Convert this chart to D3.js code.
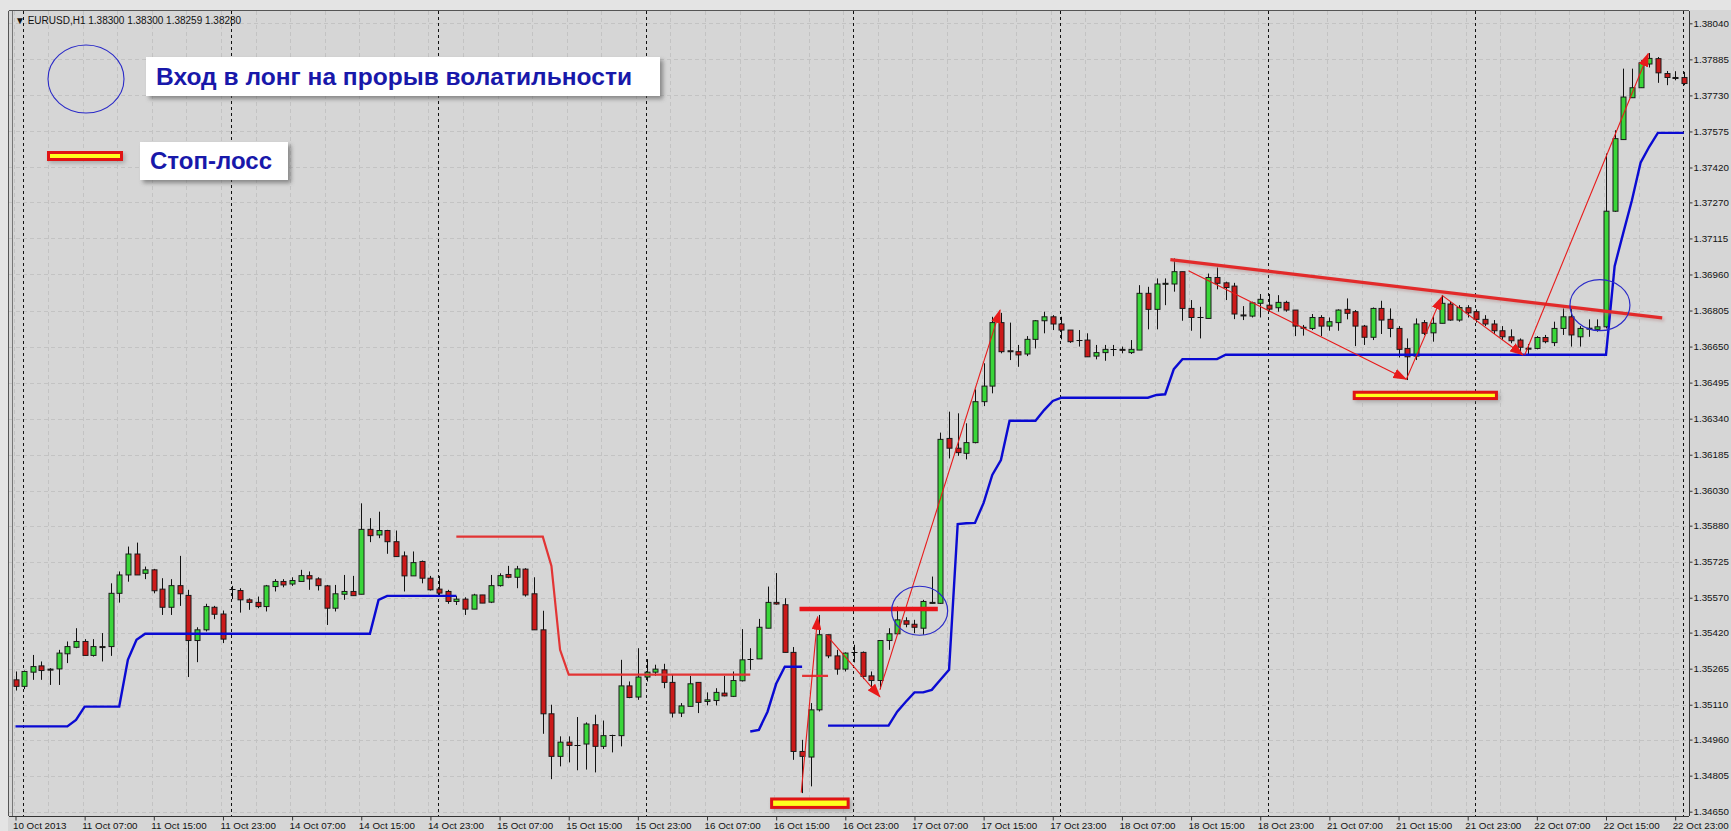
<!DOCTYPE html>
<html><head><meta charset="utf-8">
<script src="https://cdn.jsdelivr.net/npm/d3@7"></script>
<style>body{margin:0;background:#d6d6d6;overflow:hidden}svg{display:block}</style>
</head><body><svg id="c" width="1731" height="831"></svg>
<script>
const openP=[1.35217,1.35189,1.35250,1.35277,1.35263,1.35264,1.35329,1.35357,1.35382,1.35322,
1.35360,1.35360,1.35589,1.35668,1.35758,1.35675,1.35690,1.35607,1.35529,1.35622,
1.35580,1.35386,1.35432,1.35529,1.35500,1.35608,1.35601,1.35561,1.35550,1.35532,
1.35618,1.35640,1.35629,1.35640,1.35665,1.35651,1.35621,1.35525,1.35585,1.35597,
1.35585,1.35864,1.35840,1.35859,1.35811,1.35750,1.35664,1.35726,1.35654,1.35607,
1.35597,1.35554,1.35564,1.35521,1.35582,1.35551,1.35622,1.35670,1.35658,1.35693,
1.35587,1.35432,1.35071,1.34888,1.34949,1.34938,1.34941,1.35024,1.34931,1.34978,
1.34977,1.35191,1.35143,1.35229,1.35250,1.35260,1.35206,1.35074,1.35103,1.35206,
1.35124,1.35128,1.35160,1.35146,1.35213,1.35307,1.35307,1.35439,1.35550,1.35540,
1.35335,1.34909,1.34885,1.35088,1.35411,1.35320,1.35263,1.35335,1.35335,1.35234,
1.35214,1.35386,1.35415,1.35471,1.35456,1.35439,1.35549,1.35546,1.36255,1.36213,
1.36191,1.36237,1.36413,1.36480,1.36753,1.36632,1.36628,1.36618,1.36681,1.36761,
1.36778,1.36747,1.36721,1.36678,1.36678,1.36609,1.36624,1.36638,1.36638,1.36624,
1.36635,1.36879,1.36810,1.36921,1.36919,1.36972,1.36814,1.36775,1.36771,1.36947,
1.36924,1.36910,1.36786,1.36781,1.36836,1.36828,1.36817,1.36840,1.36807,1.36733,
1.36728,1.36775,1.36738,1.36753,1.36810,1.36800,1.36738,1.36690,1.36814,1.36767,
1.36728,1.36642,1.36609,1.36753,1.36709,1.36750,1.36833,1.36764,1.36817,1.36800,
1.36767,1.36747,1.36718,1.36692,1.36678,1.36643,1.36642,1.36689,1.36667,1.36728,
1.36778,1.36692,1.36728,1.36724,1.36735,1.37232,1.37540,1.37720,1.37763,1.37865,
1.37888,1.37824,1.37807,1.37807];
const highP=[1.35253,1.35257,1.35324,1.35296,1.35267,1.35346,1.35382,1.35439,1.35392,1.35392,
1.35418,1.35632,1.35683,1.35790,1.35807,1.35704,1.35694,1.35654,1.35650,1.35750,
1.35604,1.35443,1.35544,1.35535,1.35515,1.35621,1.35611,1.35567,1.35575,1.35625,
1.35650,1.35650,1.35658,1.35690,1.35683,1.35658,1.35625,1.35625,1.35668,1.35664,
1.35976,1.35912,1.35940,1.35862,1.35859,1.35769,1.35769,1.35730,1.35664,1.35664,
1.35604,1.35578,1.35572,1.35587,1.35582,1.35668,1.35675,1.35707,1.35707,1.35697,
1.35658,1.35514,1.35110,1.34974,1.34974,1.35057,1.35034,1.35067,1.35042,1.34981,
1.35303,1.35210,1.35353,1.35306,1.35282,1.35286,1.35239,1.35117,1.35234,1.35206,
1.35163,1.35181,1.35234,1.35253,1.35435,1.35353,1.35479,1.35618,1.35676,1.35568,
1.35358,1.34959,1.35117,1.35496,1.35411,1.35346,1.35335,1.35368,1.35339,1.35253,
1.35386,1.35439,1.35532,1.35486,1.35475,1.35561,1.35661,1.36280,1.36370,1.36363,
1.36320,1.36466,1.36578,1.36778,1.36795,1.36753,1.36657,1.36695,1.36764,1.36800,
1.36785,1.36778,1.36721,1.36721,1.36707,1.36657,1.36657,1.36657,1.36650,1.36678,
1.36914,1.36907,1.36943,1.36943,1.37029,1.36972,1.36850,1.36821,1.36964,1.36990,
1.36929,1.36924,1.36824,1.36843,1.36876,1.36876,1.36871,1.36847,1.36807,1.36743,
1.36790,1.36785,1.36775,1.36810,1.36857,1.36807,1.36743,1.36818,1.36847,1.36814,
1.36738,1.36685,1.36771,1.36764,1.36781,1.36871,1.36843,1.36828,1.36828,1.36810,
1.36785,1.36764,1.36738,1.36724,1.36685,1.36661,1.36695,1.36700,1.36757,1.36814,
1.36814,1.36738,1.36767,1.36767,1.37480,1.37580,1.37845,1.37845,1.37881,1.37912,
1.37895,1.37835,1.37834,1.37831];
const lowP=[1.35171,1.35177,1.35217,1.35217,1.35195,1.35195,1.35289,1.35353,1.35322,1.35317,
1.35296,1.35320,1.35549,1.35639,1.35668,1.35650,1.35589,1.35496,1.35496,1.35535,
1.35229,1.35293,1.35425,1.35478,1.35375,1.35564,1.35506,1.35518,1.35525,1.35511,
1.35597,1.35615,1.35621,1.35640,1.35604,1.35601,1.35453,1.35511,1.35561,1.35578,
1.35585,1.35809,1.35826,1.35759,1.35747,1.35597,1.35664,1.35632,1.35601,1.35578,
1.35544,1.35539,1.35496,1.35521,1.35547,1.35547,1.35618,1.35654,1.35611,1.35575,
1.35432,1.34985,1.34790,1.34845,1.34862,1.34828,1.34831,1.34819,1.34920,1.34905,
1.34931,1.35138,1.35131,1.35210,1.35234,1.35181,1.35055,1.35057,1.35103,1.35074,
1.35107,1.35107,1.35146,1.35143,1.35210,1.35260,1.35307,1.35439,1.35540,1.35335,
1.34873,1.34730,1.34759,1.35081,1.35310,1.35239,1.35253,1.35292,1.35220,1.35177,
1.35177,1.35346,1.35411,1.35443,1.35418,1.35411,1.35544,1.35544,1.36169,1.36180,
1.36165,1.36234,1.36394,1.36449,1.36621,1.36592,1.36563,1.36609,1.36642,1.36707,
1.36721,1.36681,1.36666,1.36650,1.36606,1.36595,1.36589,1.36609,1.36621,1.36618,
1.36635,1.36724,1.36724,1.36828,1.36886,1.36761,1.36718,1.36685,1.36771,1.36896,
1.36850,1.36768,1.36764,1.36775,1.36775,1.36800,1.36800,1.36800,1.36695,1.36697,
1.36721,1.36695,1.36718,1.36718,1.36767,1.36652,1.36657,1.36678,1.36704,1.36690,
1.36603,1.36506,1.36592,1.36699,1.36671,1.36750,1.36761,1.36757,1.36775,1.36753,
1.36738,1.36704,1.36678,1.36664,1.36628,1.36614,1.36638,1.36664,1.36652,1.36700,
1.36650,1.36650,1.36692,1.36714,1.36728,1.37229,1.37540,1.37720,1.37763,1.37850,
1.37784,1.37774,1.37795,1.37774];
const closeP=[1.35189,1.35253,1.35274,1.35257,1.35261,1.35332,1.35360,1.35382,1.35322,1.35360,
1.35359,1.35589,1.35668,1.35758,1.35668,1.35690,1.35600,1.35529,1.35622,1.35587,
1.35386,1.35432,1.35532,1.35499,1.35392,1.35608,1.35561,1.35550,1.35532,1.35621,
1.35640,1.35625,1.35644,1.35665,1.35651,1.35622,1.35525,1.35587,1.35597,1.35579,
1.35864,1.35837,1.35859,1.35811,1.35747,1.35664,1.35721,1.35654,1.35604,1.35590,
1.35554,1.35564,1.35521,1.35582,1.35547,1.35622,1.35665,1.35658,1.35694,1.35582,
1.35432,1.35071,1.34888,1.34949,1.34935,1.34938,1.35027,1.34931,1.34977,1.34978,
1.35191,1.35141,1.35229,1.35250,1.35263,1.35206,1.35074,1.35105,1.35200,1.35120,
1.35131,1.35163,1.35148,1.35214,1.35303,1.35307,1.35443,1.35550,1.35543,1.35335,
1.34909,1.34888,1.35088,1.35411,1.35320,1.35263,1.35332,1.35335,1.35232,1.35214,
1.35386,1.35415,1.35475,1.35456,1.35443,1.35554,1.35550,1.36251,1.36213,1.36194,
1.36237,1.36413,1.36480,1.36753,1.36628,1.36630,1.36614,1.36681,1.36761,1.36778,
1.36747,1.36721,1.36671,1.36678,1.36606,1.36624,1.36638,1.36638,1.36636,1.36638,
1.36879,1.36810,1.36919,1.36922,1.36972,1.36814,1.36775,1.36775,1.36947,1.36922,
1.36904,1.36790,1.36785,1.36838,1.36853,1.36811,1.36840,1.36807,1.36738,1.36732,
1.36775,1.36738,1.36757,1.36807,1.36793,1.36738,1.36690,1.36814,1.36764,1.36728,
1.36638,1.36606,1.36747,1.36707,1.36750,1.36836,1.36764,1.36818,1.36795,1.36767,
1.36747,1.36718,1.36692,1.36675,1.36647,1.36642,1.36689,1.36671,1.36728,1.36778,
1.36700,1.36728,1.36729,1.36735,1.37232,1.37544,1.37723,1.37763,1.37870,1.37889,
1.37827,1.37807,1.37806,1.37781];
const blueStop=[1.35017,1.35017,1.35017,1.35017,1.35017,1.35017,1.35017,1.35045,1.35102,1.35102,
1.35102,1.35102,1.35102,1.35303,1.35389,1.35415,1.35415,1.35415,1.35415,1.35415,
1.35415,1.35415,1.35415,1.35415,1.35415,1.35415,1.35415,1.35415,1.35415,1.35415,
1.35415,1.35415,1.35415,1.35415,1.35415,1.35415,1.35415,1.35415,1.35415,1.35415,
1.35415,1.35415,1.35561,1.35578,1.35578,1.35578,1.35578,1.35578,1.35578,1.35578,
1.35578,1.35578,null,null,null,null,null,null,null,null,
null,null,null,null,null,null,null,null,null,null,
null,null,null,null,null,null,null,null,null,null,
null,null,null,null,null,1.34995,1.35002,1.35080,1.35200,1.35273,
1.35273,1.35273,null,null,1.35020,1.35020,1.35020,1.35020,1.35020,1.35020,
1.35020,1.35020,1.35080,1.35123,1.35163,1.35163,1.35174,1.35217,1.35260,1.35887,
1.35890,1.35892,1.35978,1.36098,1.36162,1.36331,1.36331,1.36331,1.36331,1.36377,
1.36416,1.36430,1.36430,1.36430,1.36430,1.36430,1.36430,1.36430,1.36430,1.36430,
1.36430,1.36430,1.36442,1.36445,1.36553,1.36596,1.36596,1.36596,1.36596,1.36596,
1.36615,1.36615,1.36615,1.36615,1.36615,1.36615,1.36615,1.36615,1.36615,1.36615,
1.36615,1.36615,1.36615,1.36615,1.36615,1.36615,1.36615,1.36615,1.36615,1.36615,
1.36615,1.36615,1.36615,1.36615,1.36615,1.36615,1.36615,1.36615,1.36615,1.36615,
1.36615,1.36615,1.36615,1.36615,1.36615,1.36615,1.36615,1.36615,1.36615,1.36615,
1.36615,1.36615,1.36615,1.36615,1.36615,1.36996,1.37139,1.37279,1.37441,1.37509,
1.37569,1.37569,1.37569,1.37569];
const redStop=[null,null,null,null,null,null,null,null,null,null,
null,null,null,null,null,null,null,null,null,null,
null,null,null,null,null,null,null,null,null,null,
null,null,null,null,null,null,null,null,null,null,
null,null,null,null,null,null,null,null,null,null,
null,1.35833,1.35833,1.35833,1.35833,1.35833,1.35833,1.35833,1.35833,1.35833,
1.35833,1.35833,1.35707,1.35346,1.35239,1.35239,1.35239,1.35239,1.35239,1.35239,
1.35239,1.35239,1.35239,1.35239,1.35239,1.35239,1.35239,1.35239,1.35239,1.35239,
1.35239,1.35239,1.35239,1.35239,1.35239,1.35239,null,null,null,null,
null,1.35234,1.35234,1.35234,1.35234,null,null,null,null,null,
null,null,null,null,null,null,null,null,null,null,
null,null,null,null,null,null,null,null,null,null,
null,null,null,null,null,null,null,null,null,null,
null,null,null,null,null,null,null,null,null,null,
null,null,null,null,null,null,null,null,null,null,
null,null,null,null,null,null,null,null,null,null,
null,null,null,null,null,null,null,null,null,null,
null,null,null,null,null,null,null,null,null,null,
null,null,null,null,null,null,null,null,null,null,
null,null,null,null];
const timeLabels=["10 Oct 2013","11 Oct 07:00","11 Oct 15:00","11 Oct 23:00","14 Oct 07:00","14 Oct 15:00","14 Oct 23:00","15 Oct 07:00","15 Oct 15:00","15 Oct 23:00","16 Oct 07:00","16 Oct 15:00","16 Oct 23:00","17 Oct 07:00","17 Oct 15:00","17 Oct 23:00","18 Oct 07:00","18 Oct 15:00","18 Oct 23:00","21 Oct 07:00","21 Oct 15:00","21 Oct 23:00","22 Oct 07:00","22 Oct 15:00","22 Oct 23:00"];
const labelBars=[0,8,16,24,32,40,48,56,64,72,80,88,96,104,112,120,128,136,144,152,160,168,176,184,192];
const daySeparatorBars=[1,25,49,73,97,121,145,169,193];
const priceTicks=[1.38040,1.37885,1.37730,1.37575,1.37420,1.37270,1.37115,1.36960,1.36805,1.36650,1.36495,1.36340,1.36185,1.36030,1.35880,1.35725,1.35570,1.35420,1.35265,1.35110,1.34960,1.34805,1.34650];
// annotations (bar index, price)
const arrowFromBar=[90.9,93.8,100.0,135.7,160.9,165.0,174.6];
const arrowFromPrice=[1.34732,1.35410,1.35174,1.36976,1.36509,1.36871,1.36614];
const arrowToBar=[92.8,100.0,113.9,160.9,165.0,174.4,188.9];
const arrowToPrice=[1.35488,1.35144,1.36807,1.36509,1.36864,1.36614,1.37910];
const levelBars=[90.7,106.7]; const levelPrice=1.35522;
const trendBars=[133.6,190.5]; const trendPrices=[1.37024,1.36773];
const entryBars=[104.6,183.3]; const entryPrices=[1.35514,1.36828];
const stopBar0=[87.3,154.7], stopBar1=[96.5,171.5], stopTop=[1.34711,1.36460], stopBottom=[1.34662,1.36420];
const titleText="\u25BC EURUSD,H1  1.38300 1.38300 1.38259 1.38280";
const legendEntry="Вход в лонг на прорыв волатильности";
const legendStop="Стоп-лосс";

const svg=d3.select("#c");
const W=1731,H=831, L=9, T=11, R=1689, B=816;
const x=d3.scaleLinear().domain([0,193]).range([15.5,15.5+193*8.644]);
const y=d3.scaleLinear().domain([1.3465,1.3804]).range([811.7,23.3]);
const defs=svg.append("defs");
defs.append("marker").attr("id","ah").attr("markerUnits","userSpaceOnUse").attr("markerWidth",14).attr("markerHeight",10)
 .attr("refX",13).attr("refY",5).attr("orient","auto").append("path").attr("d","M0,0L14,5L0,10Z").attr("fill","#e81a1a");
const f=defs.append("filter").attr("id","sh").attr("x","-10%").attr("y","-20%").attr("width","130%").attr("height","160%");
f.append("feGaussianBlur").attr("stdDeviation",2);
const f2=defs.append("filter").attr("id","glow").attr("x","-10%").attr("y","-50%").attr("width","120%").attr("height","200%");
f2.append("feGaussianBlur").attr("stdDeviation",1.5);

svg.append("rect").attr("width",W).attr("height",H).attr("fill","#d6d6d6");
svg.append("rect").attr("width",W).attr("height",T-1).attr("fill","#e4e4e4");
svg.append("rect").attr("width",L-1).attr("height",H).attr("fill","#e4e4e4");
const plot=svg.append("g");
// grid
const gridBars=d3.range(0,194,4);
plot.selectAll(".vg").data(gridBars).enter().append("line")
 .attr("x1",d=>Math.round(x(d))-1.5).attr("x2",d=>Math.round(x(d))-1.5).attr("y1",T).attr("y2",B)
 .attr("stroke","#c3c3c3").attr("stroke-dasharray","4,3");
plot.selectAll(".hg").data(priceTicks).enter().append("line")
 .attr("x1",L).attr("x2",R).attr("y1",d=>Math.round(y(d))+0.5).attr("y2",d=>Math.round(y(d))+0.5)
 .attr("stroke","#c3c3c3").attr("stroke-dasharray","4,3");
plot.selectAll(".ds").data(daySeparatorBars).enter().append("line")
 .attr("x1",d=>Math.round(x(d))-0.5).attr("x2",d=>Math.round(x(d))-0.5).attr("y1",T).attr("y2",B)
 .attr("stroke","#111").attr("stroke-dasharray","3,3");
// candles
const bars=d3.range(openP.length);
const cg=plot.append("g");
bars.forEach(i=>{
 const cx=Math.round(x(i))+0.5, o=openP[i], c=closeP[i];
 cg.append("line").attr("x1",cx).attr("x2",cx).attr("y1",y(highP[i])).attr("y2",y(lowP[i])).attr("stroke","#111").attr("stroke-width",1);
 const yt=y(Math.max(o,c)), yb=y(Math.min(o,c));
 if(o===c){cg.append("line").attr("x1",cx-3).attr("x2",cx+3).attr("y1",Math.round(yt)+0.5).attr("y2",Math.round(yt)+0.5).attr("stroke","#111");}
 else cg.append("rect").attr("x",cx-2.5).attr("width",5).attr("y",yt).attr("height",Math.max(1,yb-yt))
   .attr("fill",c>o?"#3ad63a":"#cc1a1a").attr("stroke","#1a1a1a").attr("stroke-width",1);
});
// indicator lines
const ln=d3.line().defined(d=>d.v!=null).x(d=>x(d.i)).y(d=>y(d.v));
plot.append("path").attr("d",ln(redStop.map((v,i)=>({i,v})))).attr("fill","none").attr("stroke","#e23434").attr("stroke-width",2.2);
plot.append("path").attr("d",ln(blueStop.map((v,i)=>({i,v})))).attr("fill","none").attr("stroke","#0a0ad2").attr("stroke-width",2.4);
// annotations
const an=plot.append("g");
an.append("line").attr("x1",x(levelBars[0])).attr("x2",x(levelBars[1])).attr("y1",y(levelPrice)).attr("y2",y(levelPrice)).attr("stroke","#e8141a").attr("stroke-width",4.5);
an.append("line").attr("x1",x(trendBars[0])+2).attr("x2",x(trendBars[1])+2).attr("y1",y(trendPrices[0])+2).attr("y2",y(trendPrices[1])+2).attr("stroke","#b08080").attr("stroke-width",3).attr("opacity",0.5).attr("filter","url(#glow)");
an.append("line").attr("x1",x(trendBars[0])).attr("x2",x(trendBars[1])).attr("y1",y(trendPrices[0])).attr("y2",y(trendPrices[1])).attr("stroke","#e22a2a").attr("stroke-width",3.2);
arrowFromBar.forEach((b,k)=>{
 an.append("line").attr("x1",x(b)).attr("y1",y(arrowFromPrice[k])).attr("x2",x(arrowToBar[k])).attr("y2",y(arrowToPrice[k]))
  .attr("stroke","#e81a1a").attr("stroke-width",1.1).attr("marker-end","url(#ah)");
});
entryBars.forEach((b,k)=>{
 an.append("ellipse").attr("cx",x(b)).attr("cy",y(entryPrices[k])).attr("rx",k?30:28).attr("ry",k?25.5:24.5)
  .attr("fill","none").attr("stroke","#2a2ac8").attr("stroke-width",1.2);
});
stopBar0.forEach((b,k)=>{
 const x0=x(b),x1=x(stopBar1[k]),y0=y(stopTop[k]),y1=y(stopBottom[k]);
 an.append("rect").attr("x",x0+2).attr("y",y0+2).attr("width",x1-x0).attr("height",y1-y0).attr("fill","#777").attr("opacity",0.5).attr("filter","url(#sh)");
 an.append("rect").attr("x",x0).attr("y",y0).attr("width",x1-x0).attr("height",y1-y0).attr("fill","#e01414");
 an.append("rect").attr("x",x0+3).attr("y",y0+3).attr("width",x1-x0-6).attr("height",Math.max(2,y1-y0-6)).attr("fill","#ffff1e");
});
// legend
const lg=svg.append("g");
lg.append("ellipse").attr("cx",86).attr("cy",79).attr("rx",38).attr("ry",34).attr("fill","none").attr("stroke","#2a2ac8").attr("stroke-width",1.1);
lg.append("rect").attr("x",49).attr("y",153).attr("width",76).attr("height",10).attr("fill","#777").attr("opacity",0.5).attr("filter","url(#sh)");
lg.append("rect").attr("x",47).attr("y",151).attr("width",76).attr("height",10).attr("fill","#e01414");
lg.append("rect").attr("x",50).attr("y",154).attr("width",70).attr("height",4).attr("fill","#ffff1e");
[[146,57,514,39,legendEntry,156,85,476],[140,142,148,38,legendStop,150,169,122]].forEach(b=>{
 lg.append("rect").attr("x",b[0]+3).attr("y",b[1]+3).attr("width",b[2]).attr("height",b[3]).attr("fill","#555").attr("opacity",0.6).attr("filter","url(#sh)");
 lg.append("rect").attr("x",b[0]).attr("y",b[1]).attr("width",b[2]).attr("height",b[3]).attr("fill","#fff");
 lg.append("text").attr("x",b[5]).attr("y",b[6]).text(b[4]).attr("font-family","Liberation Sans, Arial, sans-serif").attr("font-weight","bold")
  .attr("font-size",23).attr("fill","#1818aa").attr("textLength",b[7]).attr("lengthAdjust","spacingAndGlyphs");
});
// frame
svg.append("line").attr("x1",L-0.5).attr("x2",L-0.5).attr("y1",T).attr("y2",B).attr("stroke","#555");
svg.append("line").attr("x1",L+3.5).attr("x2",L+3.5).attr("y1",T).attr("y2",B).attr("stroke","#777");
svg.append("line").attr("x1",L).attr("x2",R).attr("y1",T-0.5).attr("y2",T-0.5).attr("stroke","#555");
svg.append("line").attr("x1",R+0.5).attr("x2",R+0.5).attr("y1",T).attr("y2",B).attr("stroke","#333");
svg.append("line").attr("x1",L).attr("x2",R).attr("y1",B+0.5).attr("y2",B+0.5).attr("stroke","#333");
// axes
const ya=svg.append("g").attr("transform",`translate(${R+0.5},0)`).call(d3.axisRight(y).tickValues(priceTicks).tickFormat(d3.format(".5f")).tickSize(3).tickPadding(1));
ya.select(".domain").remove();
ya.selectAll("text").attr("font-family","Liberation Sans, Arial, sans-serif").attr("font-size",9.8).attr("fill","#111");
ya.selectAll("line").attr("stroke","#333");
const xa=svg.append("g").attr("transform",`translate(0,${B+0.5})`).call(d3.axisBottom(x).tickValues(labelBars).tickFormat((d,i)=>timeLabels[i]).tickSize(4).tickPadding(2));
xa.select(".domain").remove();
xa.selectAll("text").attr("text-anchor","start").attr("dx",-3).attr("font-family","Liberation Sans, Arial, sans-serif").attr("font-size",9.8).attr("fill","#111");
xa.selectAll("line").attr("stroke","#333");
svg.append("text").attr("x",15).attr("y",24).text(titleText).attr("font-family","Liberation Sans, Arial, sans-serif").attr("font-size",10).attr("fill","#111");
</script></body></html>
